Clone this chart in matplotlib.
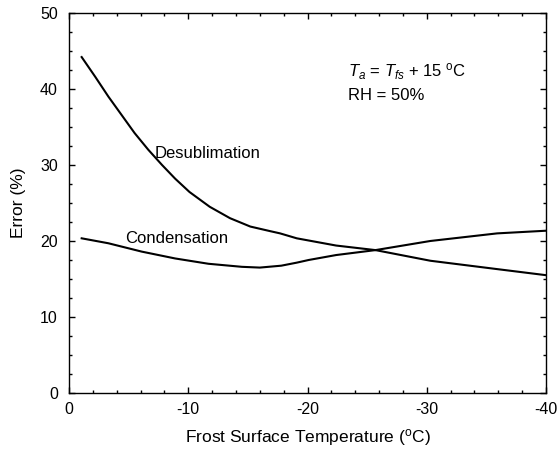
import matplotlib
matplotlib.use("Agg")
import matplotlib.pyplot as plt
from matplotlib.ticker import MultipleLocator

plt.rcParams['font.family'] = ['Liberation Sans', 'DejaVu Sans']
plt.rcParams['mathtext.fontset'] = 'custom'
plt.rcParams['mathtext.rm'] = 'Liberation Sans'
plt.rcParams['mathtext.it'] = 'Liberation Sans:italic'
plt.rcParams['axes.unicode_minus'] = False

# values
desub_t = [-1.06, -2.2, -3.3, -4.4, -5.5, -6.65, -7.8, -8.9, -10.1, -11.8,
           -13.5, -15.2, -16.85, -17.7, -19.1, -22.4, -25.7, -30.3, -35.9, -40.0]
desub_err = [44.2, 41.6, 39.0, 36.6, 34.2, 32.0, 30.0, 28.2, 26.45, 24.5,
             23.0, 21.9, 21.3, 21.0, 20.35, 19.4, 18.8, 17.4, 16.3, 15.5]

cond_t = [-1.06, -3.3, -6.1, -8.9, -11.7, -14.5, -16.0, -17.8, -19.1, -20.1,
          -22.4, -25.7, -30.3, -35.9, -40.0]
cond_err = [20.35, 19.7, 18.6, 17.7, 17.0, 16.6, 16.5, 16.75, 17.15, 17.5,
            18.15, 18.8, 20.0, 21.0, 21.35]

fig = plt.figure(figsize=(5.58, 4.54), dpi=100)
ax = fig.add_axes([0.1237, 0.1344, 0.8548, 0.837])

ax.plot(desub_t, desub_err, color='black', lw=1.5)
ax.plot(cond_t, cond_err, color='black', lw=1.5)

ax.set_xlim(0, -40)
ax.set_ylim(0, 50)
ax.xaxis.set_major_locator(MultipleLocator(10))
ax.xaxis.set_minor_locator(MultipleLocator(2))
ax.yaxis.set_major_locator(MultipleLocator(10))
ax.yaxis.set_minor_locator(MultipleLocator(2.5))
ax.tick_params(which='both', direction='in', top=True, right=True, labelsize=11.5)
ax.tick_params(which='major', length=4.5, width=1)
ax.tick_params(which='minor', length=2.3, width=1)
ax.tick_params(axis='x', pad=6.5)
ax.tick_params(axis='y', pad=8)
for s in ax.spines.values():
    s.set_linewidth(1)

ax.set_xlabel('Frost Surface Temperature ($^{\\mathrm{o}}$C)', fontsize=12.5, labelpad=7)
ax.set_ylabel('Error (%)', fontsize=12.5, labelpad=10)

ax.text(-7.2, 30.9, 'Desublimation', fontsize=12, va='baseline', ha='left')
ax.text(-4.7, 19.7, 'Condensation', fontsize=12, va='baseline', ha='left')
ax.text(-23.4, 41.6, '$T_a$ = $T_{fs}$ + 15 $^{\\mathrm{o}}$C', fontsize=12,
        va='baseline', ha='left')
ax.text(-23.4, 38.55, 'RH = 50%', fontsize=12, va='baseline', ha='left')

fig.savefig('out.png', dpi=100)
